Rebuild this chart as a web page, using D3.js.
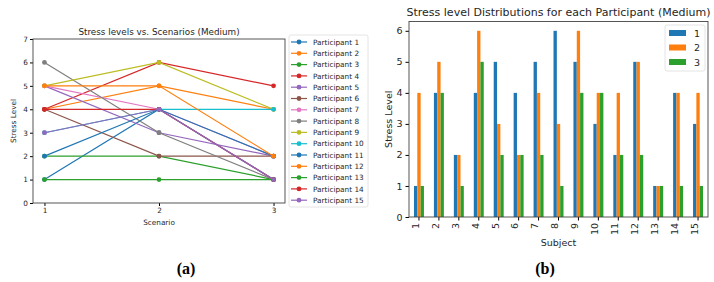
<!DOCTYPE html>
<html lang="en">
<head>
  <meta charset="UTF-8">
  <title>Stress levels</title>
  <style type="text/css">
    body { margin:0; background:#fff; }
    text { font-family: "DejaVu Sans", sans-serif; fill:#262626; }
    .caption { font-family: "Liberation Serif", serif; font-weight: bold; fill:#000; }
  </style>
  <script src="https://d3js.org/d3.v7.min.js"></script>
</head>
<body>
  <svg></svg>
  <script>
    // data: stress level per participant for scenario 1, 2, 3
    const participants = d3.range(1, 16).map(d => "Participant " + d);
    const subjects = d3.range(1, 16).map(String);
    const scenarios = [1, 2, 3];
    const scenario1 = [1, 4, 2, 4, 5, 4, 5, 6, 5, 3, 2, 5, 1, 4, 3];
    const scenario2 = [4, 5, 2, 6, 3, 2, 4, 3, 6, 4, 4, 5, 1, 4, 4];
    const scenario3 = [1, 4, 1, 5, 2, 2, 2, 1, 4, 4, 2, 2, 1, 1, 1];
    const yTicksA = [0, 1, 2, 3, 4, 5, 6, 7];
    const yTicksB = [0, 1, 2, 3, 4, 5, 6];

    const colors = ["#1f77b4","#ff7f0e","#2ca02c","#d62728","#9467bd",
                    "#8c564b","#e377c2","#7f7f7f","#bcbd22","#17becf"];
    const series = [scenario1, scenario2, scenario3];
    const fmt = d3.format("d");

    const svg = d3.select("svg").attr("width", 714).attr("height", 282);

    // ---------- (a) line chart ----------
    const a = {left:33, right:285, top:39, bottom:203};
    const gA = svg.append("g");

    const xA = d3.scaleLinear().domain([0.9, 3.1]).range([a.left, a.right]);
    const yA = d3.scaleLinear().domain([0, 7]).range([a.bottom, a.top]);

    gA.append("g")
      .attr("transform", `translate(0,${a.bottom})`)
      .call(d3.axisBottom(xA).tickValues(scenarios).tickFormat(fmt).tickSize(3).tickPadding(2))
      .call(g => g.select(".domain").remove())
      .call(g => g.selectAll("text").style("font-size","7.3px").attr("fill","#262626"));
    gA.append("g")
      .attr("transform", `translate(${a.left},0)`)
      .call(d3.axisLeft(yA).tickValues(yTicksA).tickFormat(fmt).tickSize(3).tickPadding(2))
      .call(g => g.select(".domain").remove())
      .call(g => g.selectAll("text").style("font-size","7.3px").attr("fill","#262626"));

    const line = d3.line().x((d, i) => xA(scenarios[i])).y(d => yA(d));
    participants.forEach((p, i) => {
      const vals = series.map(s => s[i]);
      const c = colors[i % 10];
      gA.append("path").datum(vals)
        .attr("d", line).attr("fill","none")
        .attr("stroke", c).attr("stroke-width", 1.2);
      gA.selectAll(null).data(vals).enter().append("circle")
        .attr("cx", (d, j) => xA(scenarios[j])).attr("cy", d => yA(d))
        .attr("r", 2.4).attr("fill", c);
    });

    gA.append("rect").attr("x", a.left).attr("y", a.top)
      .attr("width", a.right - a.left).attr("height", a.bottom - a.top)
      .attr("fill","none").attr("stroke","#444").attr("stroke-width",0.9);

    gA.append("text").attr("x", (a.left + a.right) / 2).attr("y", 35)
      .attr("text-anchor","middle").style("font-size","8.8px")
      .text("Stress levels vs. Scenarios (Medium)");
    gA.append("text").attr("x", (a.left + a.right) / 2).attr("y", 225)
      .attr("text-anchor","middle").style("font-size","7.3px").text("Scenario");
    gA.append("text").attr("transform", `translate(16,${(a.top + a.bottom) / 2}) rotate(-90)`)
      .attr("text-anchor","middle").style("font-size","7.3px").text("Stress Level");

    // legend
    const legA = gA.append("g");
    legA.append("rect").attr("x", 289).attr("y", 35).attr("width", 79).attr("height", 172)
      .attr("fill","#fff").attr("stroke","#ddd").attr("stroke-width",0.8).attr("rx",2);
    participants.forEach((p, i) => {
      const y = 42 + i * 11.3;
      const c = colors[i % 10];
      legA.append("line").attr("x1", 291).attr("x2", 307).attr("y1", y).attr("y2", y)
        .attr("stroke", c).attr("stroke-width", 1.2);
      legA.append("circle").attr("cx", 299).attr("cy", y).attr("r", 2.4).attr("fill", c);
      legA.append("text").attr("x", 313).attr("y", y + 2.6)
        .style("font-size","7.3px").text(p);
    });

    // ---------- (b) grouped bars ----------
    const b = {left:409, right:708, top:21.5, bottom:217};
    const gB = svg.append("g");

    const x0 = d3.scaleBand().domain(subjects).range([b.left, b.right]);
    const yB = d3.scaleLinear().domain([0, 6.3]).range([b.bottom, b.top]);
    const barW = x0.bandwidth() * 0.5 / 3;

    gB.append("g")
      .attr("transform", `translate(0,${b.bottom})`)
      .call(d3.axisBottom(x0).tickSize(3.5).tickPadding(2))
      .call(g => g.select(".domain").remove())
      .call(g => g.selectAll("text").style("font-size","9.5px").attr("fill","#262626")
        .attr("text-anchor","end").attr("dx","-0.2em").attr("dy","0.35em")
        .attr("transform","rotate(-90) translate(-4,-9)"));
    gB.append("g")
      .attr("transform", `translate(${b.left},0)`)
      .call(d3.axisLeft(yB).tickValues(yTicksB).tickFormat(fmt).tickSize(3.5).tickPadding(3))
      .call(g => g.select(".domain").remove())
      .call(g => g.selectAll("text").style("font-size","9.5px").attr("fill","#262626"));

    series.forEach((s, k) => {
      gB.selectAll(null).data(s).enter().append("rect")
        .attr("x", (d, i) => x0(subjects[i]) + x0.bandwidth() / 2 + (k - 1.5) * barW)
        .attr("y", d => yB(d)).attr("width", barW).attr("height", d => yB(0) - yB(d))
        .attr("fill", colors[k]);
    });

    gB.append("rect").attr("x", b.left).attr("y", b.top)
      .attr("width", b.right - b.left).attr("height", b.bottom - b.top)
      .attr("fill","none").attr("stroke","#444").attr("stroke-width",0.9);

    gB.append("text").attr("x", (b.left + b.right) / 2).attr("y", 16)
      .attr("text-anchor","middle").style("font-size","11px")
      .text("Stress level Distributions for each Participant (Medium)");
    gB.append("text").attr("x", (b.left + b.right) / 2).attr("y", 246)
      .attr("text-anchor","middle").style("font-size","9.5px").text("Subject");
    gB.append("text").attr("transform", `translate(392,${(b.top + b.bottom) / 2}) rotate(-90)`)
      .attr("text-anchor","middle").style("font-size","9.5px").text("Stress Level");

    const legB = gB.append("g");
    legB.append("rect").attr("x", 665).attr("y", 25).attr("width", 40).attr("height", 46)
      .attr("fill","#fff").attr("stroke","#ddd").attr("stroke-width",0.8).attr("rx",2);
    scenarios.forEach((sc, k) => {
      const y = 33 + k * 14.5;
      legB.append("rect").attr("x", 669).attr("y", y - 3).attr("width", 17).attr("height", 6)
        .attr("fill", colors[k]);
      legB.append("text").attr("x", 694).attr("y", y + 3.5)
        .style("font-size","9.5px").text(sc);
    });

    // captions
    svg.append("text").attr("class","caption").attr("x", 186).attr("y", 274)
      .attr("text-anchor","middle").style("font-size","16px").text("(a)");
    svg.append("text").attr("class","caption").attr("x", 545).attr("y", 274)
      .attr("text-anchor","middle").style("font-size","16px").text("(b)");
  </script>
</body>
</html>
